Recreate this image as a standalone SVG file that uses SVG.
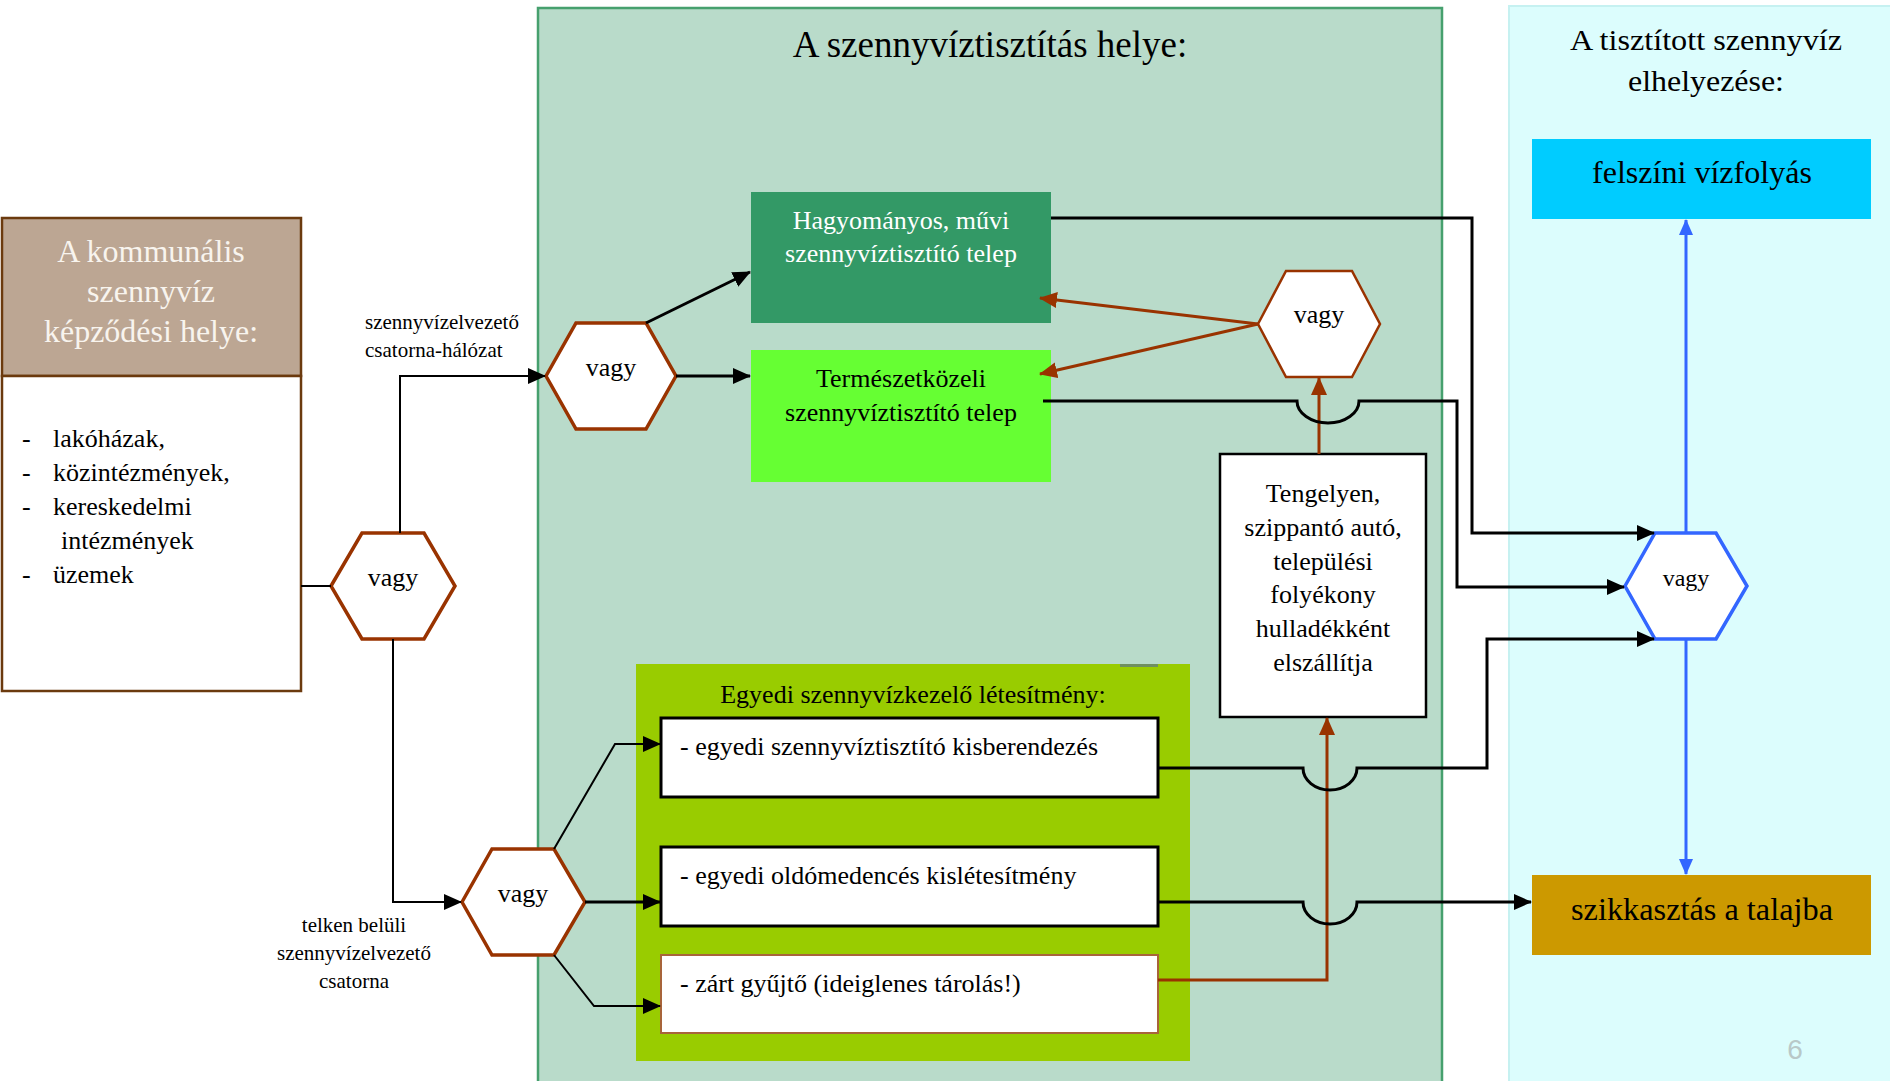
<svg xmlns="http://www.w3.org/2000/svg" width="1890" height="1081" viewBox="0 0 1890 1081">
<defs>
<style>
text{font-family:"Liberation Serif","Times New Roman",serif;fill:#000}
.hexb{fill:#fff;stroke:#993300;stroke-width:3.5}
.hexbl{fill:#fff;stroke:#3366ff;stroke-width:3.5}
.ln{fill:none;stroke:#000;stroke-width:3}
.lt{fill:none;stroke:#000;stroke-width:2}
.br{fill:none;stroke:#993300;stroke-width:3}
.bl{fill:none;stroke:#3366ff;stroke-width:3}
.c{text-anchor:middle}
</style>
<marker id="ab" markerUnits="userSpaceOnUse" markerWidth="18" markerHeight="16" refX="17" refY="8" orient="auto"><path d="M0,0 L18,8 L0,16 z" fill="#000"/></marker>
<marker id="ar" markerUnits="userSpaceOnUse" markerWidth="18" markerHeight="16" refX="17" refY="8" orient="auto"><path d="M0,0 L18,8 L0,16 z" fill="#993300"/></marker>
<marker id="au" markerUnits="userSpaceOnUse" markerWidth="16" markerHeight="14" refX="15" refY="7" orient="auto"><path d="M0,0 L16,7 L0,14 z" fill="#3366ff"/></marker>
</defs>
<rect width="1890" height="1081" fill="#fff"/>

<g id="panel-middle">
<rect x="538" y="8" width="904" height="1080" fill="#b9dbca" stroke="#46a06e" stroke-width="2.5"/>
<text x="990" y="57" class="c" font-size="37">A szennyvíztisztítás helye:</text>
</g>
<g id="panel-right">
<rect x="1509" y="6" width="385" height="1080" fill="#dcfdfd" stroke="#c6f1f1" stroke-width="2"/>
<text x="1706" y="50" class="c" font-size="30" textLength="272" lengthAdjust="spacingAndGlyphs">A tisztított szennyvíz</text>
<text x="1706" y="91" class="c" font-size="30" textLength="156" lengthAdjust="spacingAndGlyphs">elhelyezése:</text>
<text x="1795" y="1059" class="c" font-size="28" style="font-family:'Liberation Sans',Arial,sans-serif;fill:#b8c8c8">6</text>
</g>

<g id="source">
<rect x="2" y="218" width="299" height="158" fill="#bca693" stroke="#6b3a0e" stroke-width="2.5"/>
<rect x="2" y="376" width="299" height="315" fill="#fff" stroke="#6b3a0e" stroke-width="2.5"/>
<text class="c" font-size="32" style="fill:#f8f4ee"><tspan x="151" y="262">A kommunális</tspan><tspan x="151" y="302">szennyvíz</tspan><tspan x="151" y="342">képződési helye:</tspan></text>
<text font-size="26"><tspan x="22" y="447">-</tspan><tspan x="53" y="447">lakóházak,</tspan><tspan x="22" y="481">-</tspan><tspan x="53" y="481">közintézmények,</tspan><tspan x="22" y="515">-</tspan><tspan x="53" y="515">kereskedelmi</tspan><tspan x="61" y="549">intézmények</tspan><tspan x="22" y="583">-</tspan><tspan x="53" y="583">üzemek</tspan></text>
</g>

<g id="hex-left"><polygon class="hexb" points="331,586 362,533 424,533 455,586 424,639 362,639"/><text x="393" y="586" class="c" font-size="26">vagy</text></g>
<g id="hex-upper"><polygon class="hexb" points="546,376 576,323 646,323 676,376 646,429 576,429"/><text x="611" y="376" class="c" font-size="26">vagy</text></g>
<g id="hex-transport"><polygon class="hexb" style="stroke-width:2.5" points="1258,324 1286,271 1352,271 1380,324 1352,377 1286,377"/><text x="1319" y="323" class="c" font-size="26">vagy</text></g>
<g id="hex-out"><polygon class="hexbl" points="1625,586 1655,533 1716,533 1747,586 1716,639 1655,639"/><text x="1686" y="586" class="c" font-size="24">vagy</text></g>
<g id="hex-lower"><polygon class="hexb" points="462,902 492,849 554,849 585,902 554,955 492,955"/><text x="523" y="902" class="c" font-size="26">vagy</text></g>

<g id="plant-conventional">
<rect x="751" y="192" width="300" height="131" fill="#339966"/>
<text class="c" font-size="26" style="fill:#fff"><tspan x="901" y="229">Hagyományos, művi</tspan><tspan x="901" y="262">szennyvíztisztító telep</tspan></text>
</g>
<g id="plant-natural">
<rect x="751" y="350" width="300" height="132" fill="#66ff33"/>
<text class="c" font-size="26"><tspan x="901" y="387">Természetközeli</tspan><tspan x="901" y="421">szennyvíztisztító telep</tspan></text>
</g>

<g id="transport">
<rect x="1220" y="454" width="206" height="263" fill="#fff" stroke="#000" stroke-width="2.5"/>
<text class="c" font-size="26"><tspan x="1323" y="502">Tengelyen,</tspan><tspan x="1323" y="536">szippantó autó,</tspan><tspan x="1323" y="570">települési</tspan><tspan x="1323" y="603">folyékony</tspan><tspan x="1323" y="637">hulladékként</tspan><tspan x="1323" y="671">elszállítja</tspan></text>
</g>

<g id="individual">
<rect x="636" y="664" width="554" height="397" fill="#99cc00"/>
<rect x="1120" y="664" width="38" height="3" fill="#6f8f60"/>
<text x="913" y="703" class="c" font-size="26">Egyedi szennyvízkezelő létesítmény:</text>
<g id="unit-small"><rect x="661" y="718" width="497" height="79" fill="#fff" stroke="#000" stroke-width="3"/><text x="680" y="755" font-size="26">- egyedi szennyvíztisztító kisberendezés</text></g>
<g id="unit-septic"><rect x="661" y="847" width="497" height="79" fill="#fff" stroke="#000" stroke-width="3"/><text x="680" y="884" font-size="26">- egyedi oldómedencés kislétesítmény</text></g>
<g id="unit-closed"><rect x="661" y="955" width="497" height="78" fill="#fff" stroke="#a8643a" stroke-width="2"/><text x="680" y="992" font-size="26">- zárt gyűjtő (ideiglenes tárolás!)</text></g>
</g>

<g id="surface-water">
<rect x="1532" y="139" width="339" height="80" fill="#00ccff"/>
<text x="1702" y="183" class="c" font-size="31" textLength="220" lengthAdjust="spacingAndGlyphs">felszíni vízfolyás</text>
</g>
<g id="infiltration">
<rect x="1532" y="875" width="339" height="80" fill="#cc9900"/>
<text x="1702" y="920" class="c" font-size="31" textLength="262" lengthAdjust="spacingAndGlyphs">szikkasztás a talajba</text>
</g>

<g id="labels">
<text font-size="21"><tspan x="365" y="329">szennyvízelvezető</tspan><tspan x="365" y="357">csatorna-hálózat</tspan></text>
<text class="c" font-size="21"><tspan x="354" y="932">telken belüli</tspan><tspan x="354" y="960">szennyvízelvezető</tspan><tspan x="354" y="988">csatorna</tspan></text>
</g>

<g id="connectors">
<path class="lt" d="M301,586 H331"/>
<path class="lt" d="M400,533 V376 H545" marker-end="url(#ab)"/>
<path class="lt" d="M393,639 V902 H461" marker-end="url(#ab)"/>
<path class="ln" d="M646,323 L750,272" marker-end="url(#ab)"/>
<path class="ln" d="M676,376 H750" marker-end="url(#ab)"/>
<path class="br" d="M1258,324 L1040,298" marker-end="url(#ar)"/>
<path class="br" d="M1258,324 L1040,374" marker-end="url(#ar)"/>
<path class="br" d="M1319,454 V378" marker-end="url(#ar)"/>
<path class="br" d="M1158,980 H1327 V718" marker-end="url(#ar)"/>
<path class="ln" d="M1051,218 H1472 V533 H1654" marker-end="url(#ab)"/>
<path class="ln" d="M1043,401 H1297 A31,22 0 0 0 1359,401 H1457 V587 H1624" marker-end="url(#ab)"/>
<path class="ln" d="M1158,768 H1303 A27,22 0 0 0 1357,768 H1487 V639 H1654" marker-end="url(#ab)"/>
<path class="ln" d="M1158,902 H1303 A27,22 0 0 0 1357,902 H1531" marker-end="url(#ab)"/>
<path class="lt" d="M554,849 L615,744 H660" marker-end="url(#ab)"/>
<path class="ln" d="M585,902 H660" marker-end="url(#ab)"/>
<path class="lt" d="M554,955 L594,1006 H660" marker-end="url(#ab)"/>
<path class="bl" d="M1686,533 V220" marker-end="url(#au)"/>
<path class="bl" d="M1686,639 V874" marker-end="url(#au)"/>
</g>
</svg>
